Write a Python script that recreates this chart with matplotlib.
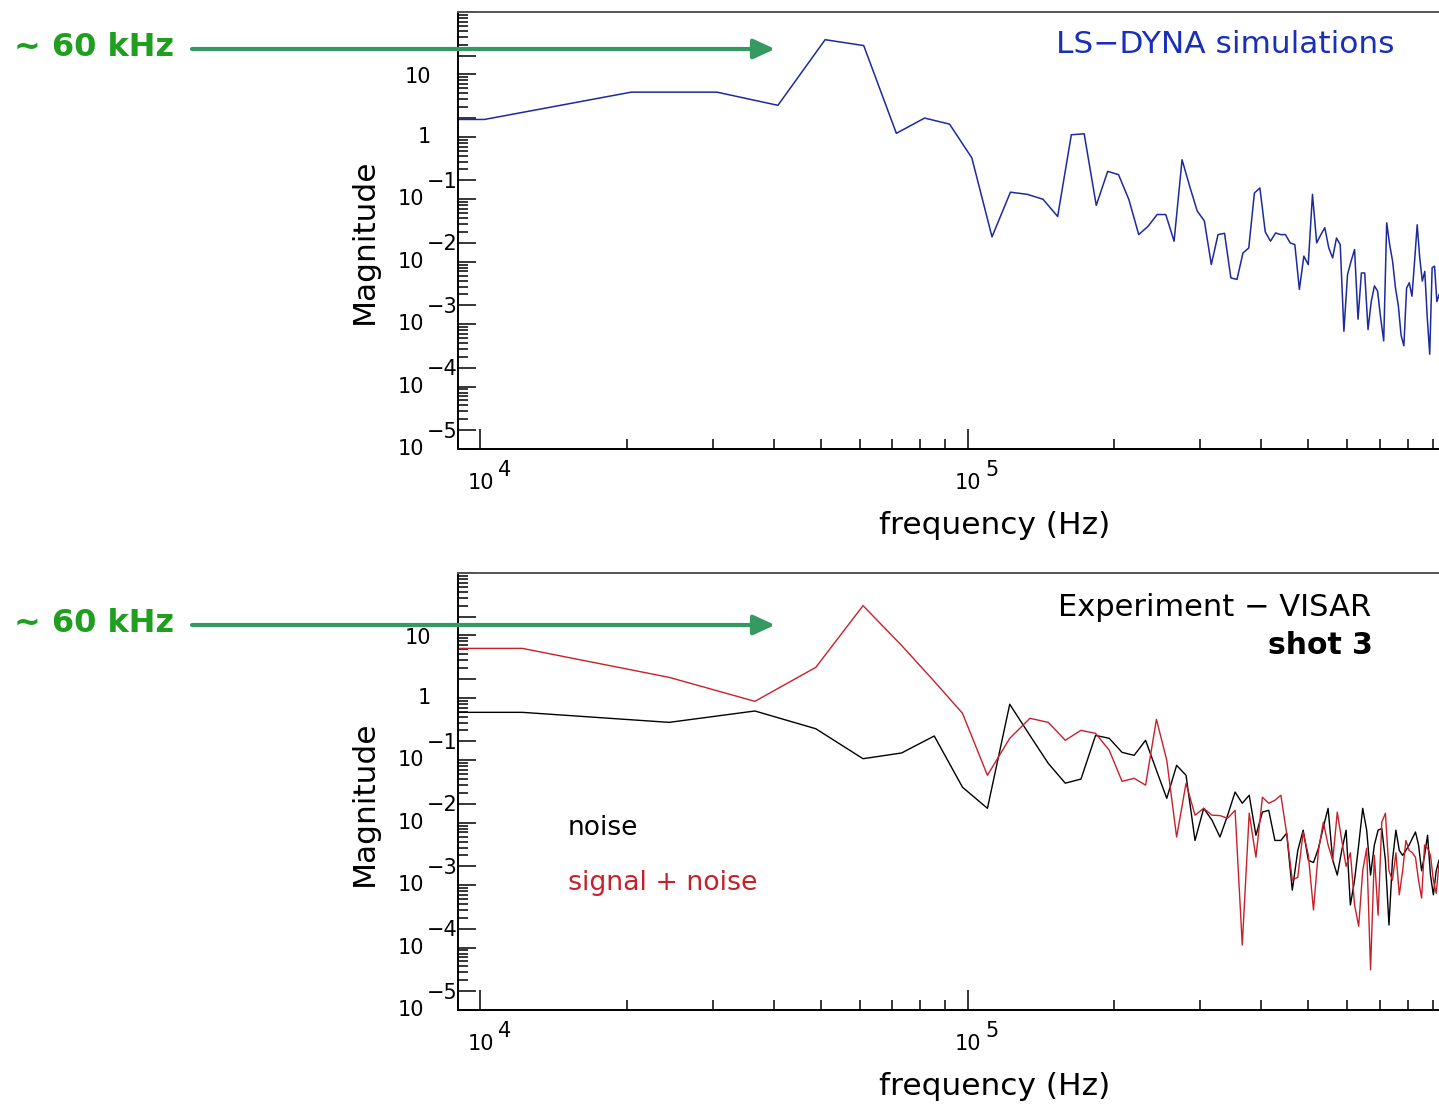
import numpy as np
import matplotlib
matplotlib.use("Agg")
import matplotlib.pyplot as plt
from matplotlib.ticker import LogLocator, NullFormatter

plt.rcParams['font.family'] = ['DejaVu Sans']

# ---------------- data (frequency in kHz, magnitude) ----------------
# LS-DYNA simulation spectrum (10.2 kHz grid; first value at the axis edge)
sim_freq_khz = [9.0, 10.2, 20.4, 30.6, 40.8, 51.0, 61.2, 71.4, 81.6, 91.8, 102.0,
                112.2, 122.4, 132.6, 142.8, 153.0, 163.2, 173.4, 183.6, 193.8, 204.0,
                214.2, 224.4, 234.6, 244.8, 255.0, 265.2, 275.4, 285.6, 295.8, 306.0,
                316.2, 326.4, 336.6, 346.8, 357.0, 367.2, 377.4, 387.6, 397.8, 408.0,
                418.2, 428.4, 438.6, 448.8, 459.0, 469.2, 479.4, 489.6, 499.8, 510.0,
                520.2, 530.4, 540.6, 550.8, 561.0, 571.2, 581.4, 591.6, 601.8, 612.0,
                622.2, 632.4, 642.6, 652.8, 663.0, 673.2, 683.4, 693.6, 703.8, 714.0,
                724.2, 734.4, 744.6, 754.8, 765.0, 775.2, 785.4, 795.6, 805.8, 816.0,
                826.2, 836.4, 846.6, 856.8, 867.0, 877.2, 887.4, 897.6, 907.8, 918.0,
                928.2]
sim_mag = [1.9, 1.9, 5.2, 5.2, 3.2, 36.0, 29.0, 1.14, 2.0, 1.6, 0.46,
           0.025, 0.13, 0.12, 0.10, 0.053, 1.08, 1.12, 0.080, 0.28, 0.248,
           0.099, 0.0272, 0.037, 0.057, 0.057, 0.0213, 0.43, 0.16, 0.065, 0.045,
           0.009, 0.0272, 0.0285, 0.0055, 0.0052, 0.0138, 0.0166, 0.126, 0.152, 0.03,
           0.0213, 0.0289, 0.0272, 0.0272, 0.02, 0.0188, 0.0036, 0.0123, 0.009, 0.12,
           0.02, 0.027, 0.035, 0.0166, 0.0115, 0.024, 0.0188, 0.00077, 0.0062, 0.0102,
           0.0157, 0.0012, 0.0066, 0.0066, 0.00082, 0.0023, 0.0041, 0.0034, 0.00126, 0.00054,
           0.042, 0.0188, 0.0102, 0.0038, 0.002, 0.00066, 0.00045, 0.0038, 0.0046, 0.0028,
           0.0102, 0.039, 0.0115, 0.0049, 0.007, 0.00126, 0.00033, 0.008, 0.0085, 0.0023,
           0.003]

# Experiment (VISAR) spectra, 12.2 kHz grid; first value at the axis edge
exp_freq_khz = [9.0, 12.2, 24.4, 36.6, 48.8, 61.0, 73.2, 85.4, 97.6, 109.8, 122.0,
                134.2, 146.4, 158.6, 170.8, 183.0, 195.2, 207.4, 219.6, 231.8, 244.0,
                256.2, 268.4, 280.6, 292.8, 305.0, 317.2, 329.4, 341.6, 353.8, 366.0,
                378.2, 390.4, 402.6, 414.8, 427.0, 439.2, 451.4, 463.6, 475.8, 488.0,
                500.2, 512.4, 524.6, 536.8, 549.0, 561.2, 573.4, 585.6, 597.8, 610.0,
                622.2, 634.4, 646.6, 658.8, 671.0, 683.2, 695.4, 707.6, 719.8, 732.0,
                744.2, 756.4, 768.6, 780.8, 793.0, 805.2, 817.4, 829.6, 841.8, 854.0,
                866.2, 878.4, 890.6, 902.8, 915.0, 927.2]
noise_mag = [0.586, 0.586, 0.405, 0.616, 0.32, 0.106, 0.131, 0.245, 0.037, 0.017, 0.79,
             0.25, 0.089, 0.043, 0.05, 0.25, 0.225, 0.134, 0.12, 0.209, 0.069,
             0.0246, 0.083, 0.0575, 0.0052, 0.017, 0.011, 0.0059, 0.0132, 0.031, 0.0205,
             0.0275, 0.0063, 0.0148, 0.0158, 0.0052, 0.0052, 0.0068, 0.00083, 0.0036, 0.0076,
             0.0025, 0.0023, 0.0039, 0.0085, 0.017, 0.0025, 0.00145, 0.0036, 0.0076, 0.00048,
             0.0012, 0.0044, 0.017, 0.0076, 0.00145, 0.0044, 0.0076, 0.0081, 0.0025, 0.00023,
             0.0025, 0.0076, 0.0036, 0.003, 0.0036, 0.0044, 0.0056, 0.0071, 0.0044, 0.0017,
             0.003, 0.0063, 0.00145, 0.0007, 0.0017, 0.0025]
signal_mag = [6.2, 6.2, 2.13, 0.88, 3.08, 30.0, 6.9, 1.84, 0.565, 0.0575, 0.225,
              0.47, 0.405, 0.209, 0.302, 0.27, 0.145, 0.046, 0.0515, 0.04, 0.453,
              0.1, 0.0059, 0.0428, 0.0132, 0.017, 0.0132, 0.013, 0.0118, 0.0158, 0.00011,
              0.0142, 0.0028, 0.0256, 0.0205, 0.0229, 0.0275, 0.0068, 0.0012, 0.00134, 0.0071,
              0.003, 0.0004, 0.0036, 0.0102, 0.0044, 0.0025, 0.0148, 0.0052, 0.002, 0.0033,
              0.00048, 0.00022, 0.0017, 0.0039, 0.000044, 0.003, 0.00033, 0.0102, 0.0142, 0.0017,
              0.0012, 0.0033, 0.0007, 0.0017, 0.0052, 0.0036, 0.0033, 0.0028, 0.0012, 0.00062,
              0.0044, 0.0039, 0.003, 0.0012, 0.00074, 0.0022]

y_decades = [1, 0, -1, -2, -3, -4, -5]
x_decades = [4, 5]

# ---------------- figure ----------------
W, H = 1439, 1106
fig = plt.figure(figsize=(W / 100, H / 100), dpi=100)


def px_axes(left, top, right, bottom):
    return fig.add_axes([left / W, 1 - bottom / H, (right - left) / W, (bottom - top) / H])


TICK_FS = 15
LABEL_FS = 22.5


def style(ax, xlabel_y):
    ax.set_xscale('log')
    ax.set_yscale('log')
    ax.set_xlim(9e3, 1e6)
    ax.set_ylim(1e-5, 1e2)
    ax.xaxis.set_major_locator(LogLocator(10, subs=(1.0,), numticks=50))
    ax.xaxis.set_minor_locator(LogLocator(10, subs=(2, 3, 4, 5, 6, 7, 8, 9), numticks=50))
    ax.yaxis.set_major_locator(LogLocator(10, subs=(1.0, 2.0), numticks=50))
    ax.yaxis.set_minor_locator(LogLocator(10, subs=(3, 4, 5, 6, 7, 8, 9), numticks=50))
    for axis in (ax.xaxis, ax.yaxis):
        axis.set_major_formatter(NullFormatter())
        axis.set_minor_formatter(NullFormatter())
    ax.tick_params(which='both', direction='in', top=False, right=False,
                   color='black', width=1.1)
    ax.tick_params(axis='x', which='major', length=14.5)
    ax.tick_params(axis='x', which='minor', length=7.2)
    ax.tick_params(axis='y', which='major', length=13)
    ax.tick_params(axis='y', which='minor', length=7.2)
    ax.spines['right'].set_visible(False)
    ax.spines['top'].set_color('#555555')
    for s in ('top', 'left', 'bottom'):
        ax.spines[s].set_linewidth(1.4)
    ax.spines['left'].set_color('black')
    ax.spines['bottom'].set_color('black')

    # decade labels in the old plotting style (full size exponents)
    ytr = ax.get_yaxis_transform()
    for e in y_decades:
        if e == 1:
            ax.annotate('10', xy=(0, 10.0 ** e), xycoords=ytr, xytext=(-19, -2),
                        textcoords='offset points', ha='right', va='center', fontsize=TICK_FS)
        elif e == 0:
            ax.annotate('1', xy=(0, 10.0 ** e), xycoords=ytr, xytext=(-19.5, 0),
                        textcoords='offset points', ha='right', va='center', fontsize=TICK_FS)
        else:
            ax.annotate('10', xy=(0, 10.0 ** e), xycoords=ytr, xytext=(-24, 0),
                        textcoords='offset points', ha='right', va='center', fontsize=TICK_FS)
            ax.annotate('\u2212%d' % (-e), xy=(0, 10.0 ** e), xycoords=ytr, xytext=(-22.5, 12.5),
                        textcoords='offset points', ha='left', va='center', fontsize=TICK_FS)
    xtr = ax.get_xaxis_transform()
    for e in x_decades:
        ax.annotate('10', xy=(10.0 ** e, 0), xycoords=xtr, xytext=(0.5, -24.5),
                    textcoords='offset points', ha='center', va='center', fontsize=TICK_FS)
        ax.annotate('%d' % e, xy=(10.0 ** e, 0), xycoords=xtr, xytext=(13, -15),
                    textcoords='offset points', ha='left', va='center', fontsize=TICK_FS)

    ax.set_xlabel('frequency (Hz)', fontsize=LABEL_FS, va='center')
    ax.xaxis.set_label_coords(0.5386, xlabel_y)


ax1 = px_axes(458, 12, 1455, 449)
ax2 = px_axes(458, 573, 1455, 1010)
style(ax1, -0.174)
style(ax2, -0.176)

ax1.set_ylabel('Magnitude', fontsize=LABEL_FS, va='center')
ax1.yaxis.set_label_coords(-0.0943, 0.476)
ax2.set_ylabel('Magnitude', fontsize=LABEL_FS, va='center')
ax2.yaxis.set_label_coords(-0.0943, 0.474)

# ---------------- data lines ----------------
ax1.plot(np.asarray(sim_freq_khz) * 1e3, sim_mag, color='#1c2a9e', lw=1.1)
ax2.plot(np.asarray(exp_freq_khz) * 1e3, noise_mag, color='black', lw=1.0)
ax2.plot(np.asarray(exp_freq_khz) * 1e3, signal_mag, color='#c8202a', lw=1.0)

# ---------------- in-plot texts ----------------
ax1.text(0.9398, 0.9245, 'LS\u2212DYNA simulations', transform=ax1.transAxes,
         ha='right', va='center', fontsize=22.5, color='#1a2fb8')
ax2.text(0.9157, 0.922, 'Experiment \u2212 VISAR', transform=ax2.transAxes,
         ha='right', va='center', fontsize=22, color='black')
ax2.text(0.9177, 0.835, 'shot 3', transform=ax2.transAxes,
         ha='right', va='center', fontsize=21.5, fontweight='bold', color='black')
ax2.text(0.1103, 0.4165, 'noise', transform=ax2.transAxes,
         ha='left', va='center', fontsize=19, color='black')
ax2.text(0.1103, 0.2906, 'signal + noise', transform=ax2.transAxes,
         ha='left', va='center', fontsize=19.3, color='#c8202a')

# ---------------- "~ 60 kHz" callouts ----------------
for text_y, arrow_y in ((47, 49), (623, 625)):
    fig.text(14 / W, 1 - text_y / H, '~ 60 kHz', ha='left', va='center',
             fontsize=23, fontweight='bold', color='#1f9e1f')
    fig.add_artist(matplotlib.patches.FancyArrowPatch(
        (192 / W, 1 - arrow_y / H), (775 / W, 1 - arrow_y / H),
        transform=fig.transFigure,
        arrowstyle='-|>,head_length=0.65,head_width=0.3', mutation_scale=20,
        color='#349a62', lw=3.0, shrinkA=0, shrinkB=0, zorder=10))

fig.savefig('out.png', dpi=100, facecolor='white')
